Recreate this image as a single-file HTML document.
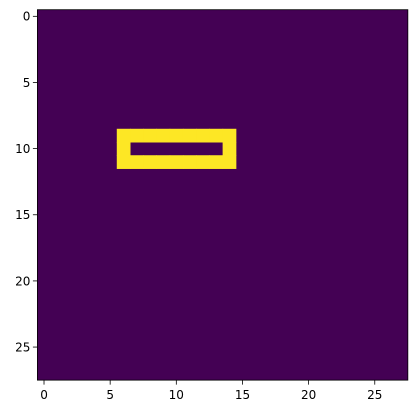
<!DOCTYPE html>
<html><head><meta charset="utf-8"><style>
html,body{margin:0;padding:0;background:#fff;}
text{font-family:"DejaVu Sans","Liberation Sans",sans-serif;font-size:12px;fill:#000;}
</style></head><body>
<svg id="chart" width="416" height="413" xmlns="http://www.w3.org/2000/svg"></svg>
<script>
const nRows = 28;
const nCols = 28;
// yellow cells: rectangle outline rows 9-11, cols 6-14
const outerRect = [9, 11, 6, 14]; // rowStart,rowEnd,colStart,colEnd
const innerRect = [10, 10, 7, 13];
const xTicks = [0, 5, 10, 15, 20, 25];
const yTicks = [0, 5, 10, 15, 20, 25];

const svg = document.getElementById('chart');
const NS = 'http://www.w3.org/2000/svg';
const L = 37.4, T = 9.7, cell = 13.23;
const W = nCols * cell, H = nRows * cell;
const xs = c => L + c * cell;
const ys = r => T + r * cell;
function mk(tag, attrs){const e=document.createElementNS(NS,tag);for(const k in attrs)e.setAttribute(k,attrs[k]);svg.appendChild(e);return e;}

const bg = mk('rect',{x:L,y:T,width:W,height:H,fill:'#440154'});



for(let r=0;r<nRows;r++){for(let c=0;c<nCols;c++){
  const inOuter = r>=outerRect[0]&&r<=outerRect[1]&&c>=outerRect[2]&&c<=outerRect[3];
  const inInner = r>=innerRect[0]&&r<=innerRect[1]&&c>=innerRect[2]&&c<=innerRect[3];
  if(inOuter && !inInner){
    const e = mk('rect',{x:xs(c),y:ys(r),width:cell+0.5,height:cell+0.5,fill:'#fde725'});
    
    
  }
}}

const frame = mk('rect',{x:L,y:T,width:W,height:H,fill:'none',stroke:'#000','stroke-width':0.8});



xTicks.forEach(v=>{
  const x = xs(v+0.5);
  const t = mk('line',{x1:x,x2:x,y1:T+H,y2:T+H+4.5,stroke:'#000','stroke-width':0.8});
  
  
  const l = mk('text',{x:x,y:T+H+19,'text-anchor':'middle'});
  l.textContent = v;
  
  
});
yTicks.forEach(v=>{
  const y = ys(v+0.5);
  const t = mk('line',{x1:L-4.5,x2:L,y1:y,y2:y,stroke:'#000','stroke-width':0.8});
  
  
  const l = mk('text',{x:L-7,y:y+4.4,'text-anchor':'end'});
  l.textContent = v;
  
  
});
</script>
</body></html>
